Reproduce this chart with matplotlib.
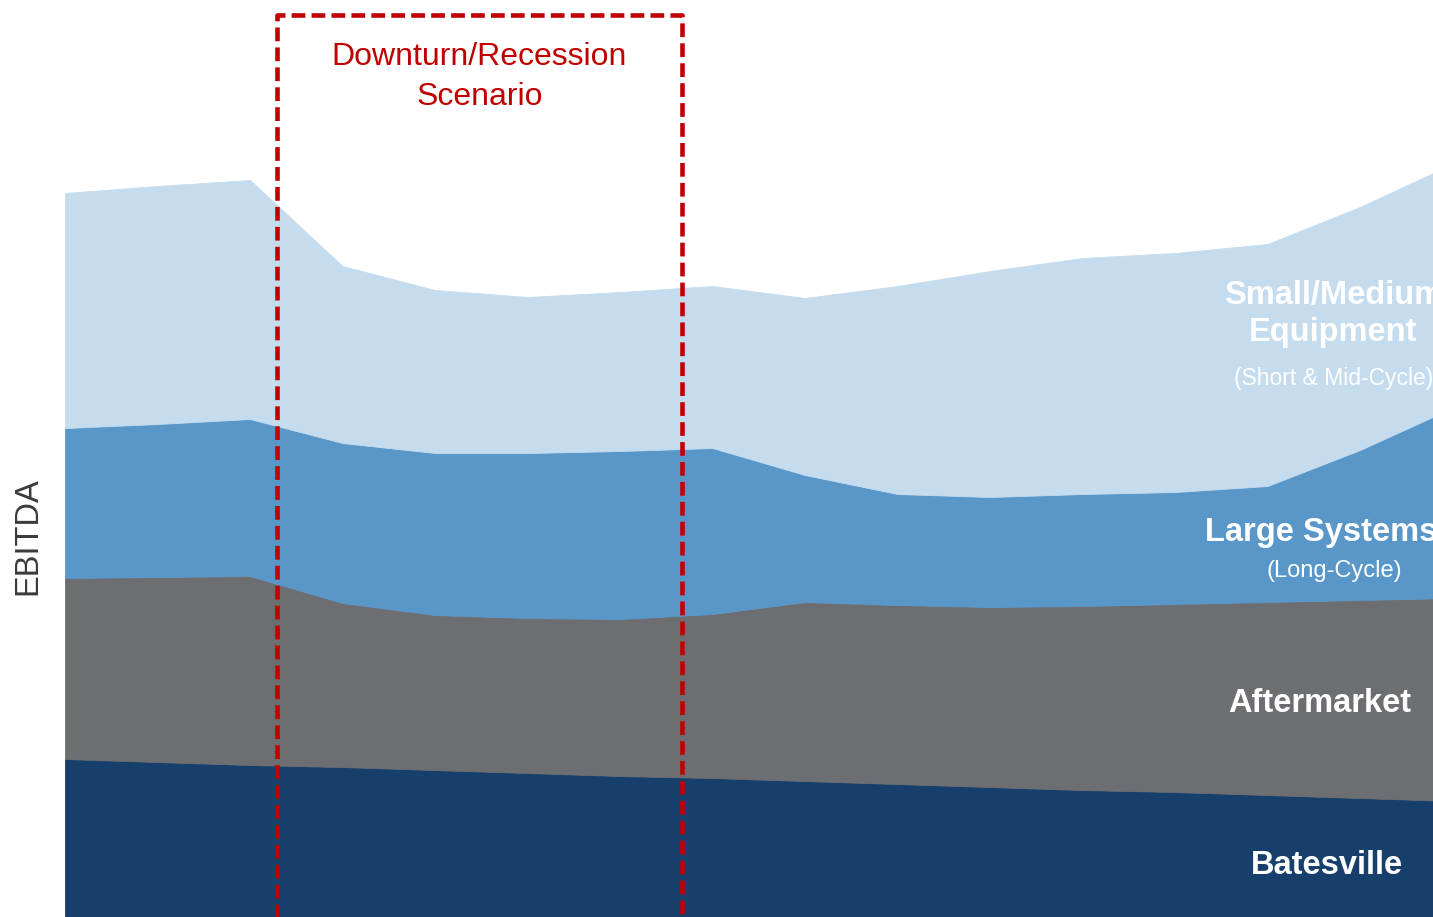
import numpy as np
import matplotlib.pyplot as plt

plt.rcParams['font.family'] = ['Liberation Sans', 'DejaVu Sans']

# ------------------------------------------------------------
# data (EBITDA, arbitrary units)
# ------------------------------------------------------------
periods = np.arange(16)

batesville  = [15.8, 15.5, 15.2, 15.0, 14.7, 14.4, 14.1, 13.9,
               13.6, 13.3, 13.0, 12.7, 12.5, 12.2, 11.9, 11.6]
aftermarket = [18.1, 18.5, 18.9, 16.4, 15.5, 15.5, 15.7, 16.4,
               17.9, 17.9, 18.0, 18.4, 18.8, 19.3, 19.8, 20.3]
large_sys   = [15.0, 15.3, 15.7, 16.0, 16.2, 16.5, 16.8, 16.6,
               12.7, 11.1, 11.0, 11.2, 11.2, 11.6, 15.0, 19.0]
small_med   = [23.5, 23.8, 23.9, 17.7, 16.3, 15.6, 15.9, 16.2,
               17.7, 20.8, 22.6, 23.6, 23.9, 24.2, 24.3, 24.4]

colors = ["#163F6C", "#6D6E71", "#5A97C9", "#C5DCEF"]
red = "#C00000"

# recession window (in period units) and box top
rec_start, rec_end, box_top = 2.29, 6.67, 90.2

# ------------------------------------------------------------
fig = plt.figure(figsize=(14.33, 9.17), dpi=100)
ax = fig.add_axes([65 / 1433, 0, 1 - 65 / 1433, 1])

polys = ax.stackplot(periods, batesville, aftermarket, large_sys, small_med,
                     colors=colors, linewidth=0.6)
for p, c in zip(polys, colors):
    p.set_edgecolor(c)

ax.set_xlim(0, (1433 - 65) / 92.5)
ax.set_ylim(0, 91.7)
ax.axis("off")

# dashed box
ax.plot([rec_start, rec_start, rec_end, rec_end], [-2, box_top, box_top, -2],
        color=red, lw=3.3, linestyle=(0, (3.0, 1.35)), clip_on=False, zorder=5)
ax.text((rec_start + rec_end) / 2, 84.0, "Downturn/Recession\nScenario",
        color=red, fontsize=23, ha="center", va="center", linespacing=1.4)

# segment labels (the right edge cuts them, as in the original slide)
ax.text(13.71, 60.3, "Small/Medium\nEquipment", color="white", fontsize=23.5,
        fontweight="bold", ha="center", va="center", linespacing=1.25)
ax.text(13.71, 53.8, "(Short & Mid-Cycle)", color="white", fontsize=16.5,
        ha="center", va="center")
ax.text(13.58, 38.4, "Large Systems", color="white", fontsize=23.5,
        fontweight="bold", ha="center", va="center")
ax.text(13.72, 34.6, "(Long-Cycle)", color="white", fontsize=17,
        ha="center", va="center")
ax.text(13.57, 21.3, "Aftermarket", color="white", fontsize=23.5,
        fontweight="bold", ha="center", va="center")
ax.text(13.64, 5.1, "Batesville", color="white", fontsize=23.5,
        fontweight="bold", ha="center", va="center")

fig.text(28 / 1433, 1 - 536 / 917, "EBITDA", rotation=90, fontsize=23.5,
         color="#3a3a3a", ha="center", va="center")

fig.savefig("out.png", dpi=100)
